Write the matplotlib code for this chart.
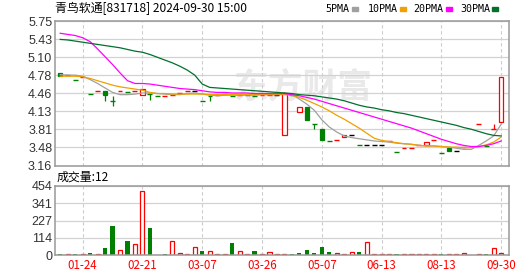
import numpy as np
import matplotlib
matplotlib.use('Agg')
import matplotlib.pyplot as plt
from matplotlib.patches import Rectangle

nan = np.nan

title = '青鸟软通[831718] 2024-09-30 15:00'
date_ticks = [3, 11, 19, 27, 35, 43, 51, 59]
date_labels = ['01-24', '02-21', '03-07', '03-26', '05-07', '06-13', '08-13', '09-30']
price_labels = ['3.16', '3.48', '3.81', '4.13', '4.46', '4.78', '5.10', '5.43', '5.75']
vol_labels = ['0', '114', '227', '341', '454']
ma_names = ['5PMA', '10PMA', '20PMA', '30PMA']

# daily candles (flat days have o == h == l == c)
opens = [4.81, 4.78, 4.70, 4.74, 4.45, 4.50, 4.50, 4.31, 4.49, 4.48,
         4.49, 4.42, 4.44, 4.40, 4.41, 4.43, 4.46, 4.49, 4.49, 4.31,
         4.41, 4.43, 4.45, 4.41, 4.42, 4.42, 4.41, 4.42, 4.43, 4.43,
         3.70, 4.42, 4.12, 4.21, 3.90, 3.81, 3.60, 3.61, 3.67, 3.71,
         3.52, 3.52, 3.52, 3.52, 3.60, 3.41, 3.47, 3.48, 3.53, 3.53,
         3.61, 3.39, 3.47, 3.42, 3.50, nan, 3.91, 3.51, 3.82, 3.94]
highs = [4.81, 4.78, 4.70, 4.74, 4.45, 4.50, 4.50, 4.40, 4.49, 4.48,
         4.49, 4.53, 4.44, 4.40, 4.41, 4.43, 4.46, 4.49, 4.49, 4.31,
         4.41, 4.43, 4.45, 4.41, 4.42, 4.42, 4.41, 4.42, 4.43, 4.43,
         4.47, 4.42, 4.21, 4.21, 3.90, 3.81, 3.60, 3.61, 3.71, 3.71,
         3.52, 3.52, 3.52, 3.52, 3.60, 3.41, 3.47, 3.48, 3.53, 3.58,
         3.61, 3.39, 3.47, 3.42, 3.50, nan, 3.91, 3.51, 3.90, 4.74]
lows = [4.77, 4.78, 4.70, 4.74, 4.45, 4.50, 4.31, 4.22, 4.49, 4.48,
        4.49, 4.42, 4.33, 4.40, 4.41, 4.43, 4.46, 4.49, 4.49, 4.31,
        4.31, 4.43, 4.45, 4.41, 4.42, 4.42, 4.41, 4.42, 4.43, 4.43,
        3.70, 4.42, 4.12, 3.97, 3.82, 3.62, 3.60, 3.61, 3.67, 3.71,
        3.52, 3.52, 3.52, 3.52, 3.60, 3.41, 3.47, 3.48, 3.53, 3.53,
        3.61, 3.39, 3.42, 3.42, 3.50, nan, 3.91, 3.51, 3.82, 3.94]
closes = [4.77, 4.78, 4.70, 4.74, 4.45, 4.50, 4.42, 4.31, 4.49, 4.48,
          4.49, 4.53, 4.44, 4.40, 4.41, 4.43, 4.46, 4.49, 4.49, 4.31,
          4.40, 4.43, 4.45, 4.41, 4.42, 4.42, 4.41, 4.42, 4.43, 4.43,
          4.46, 4.42, 4.21, 3.97, 3.90, 3.62, 3.60, 3.61, 3.71, 3.71,
          3.52, 3.52, 3.52, 3.52, 3.60, 3.41, 3.47, 3.48, 3.53, 3.58,
          3.61, 3.39, 3.42, 3.42, 3.50, nan, 3.91, 3.51, 3.82, 4.74]
volumes = [8, 8, 8, 8, 15, 8, 46, 190, 31, 92,
           70, 418, 177, 0, 8, 92, 13, 8, 50, 26,
           26, 8, 8, 81, 26, 8, 26, 8, 17, 8,
           8, 8, 13, 33, 13, 53, 20, 13, 8, 20,
           20, 85, 8, 8, 8, 8, 8, 8, 8, 8,
           8, 8, 8, 8, 13, 0, 8, 8, 44, 12]

# moving averages
ma5 = [4.79, 4.78, 4.78, 4.76, 4.70, 4.63, 4.55, 4.47, 4.43, 4.43,
       4.44, 4.46, 4.46, 4.45, 4.44, 4.43, 4.43, 4.45, 4.46, 4.44,
       4.42, 4.41, 4.42, 4.42, 4.42, 4.42, 4.42, 4.43, 4.43, 4.43,
       4.44, 4.43, 4.35, 4.26, 4.15, 3.98, 3.85, 3.76, 3.69, 3.66,
       3.64, 3.62, 3.60, 3.59, 3.58, 3.56, 3.55, 3.54, 3.52, 3.51,
       3.51, 3.50, 3.49, 3.47, 3.45, 3.45, 3.52, 3.60, 3.69, 3.90]
ma10 = [4.76, 4.76, 4.76, 4.75, 4.72, 4.68, 4.64, 4.60, 4.57, 4.55,
        4.53, 4.51, 4.47, 4.45, 4.45, 4.44, 4.44, 4.44, 4.44, 4.44,
        4.43, 4.43, 4.43, 4.43, 4.43, 4.43, 4.43, 4.43, 4.43, 4.43,
        4.43, 4.42, 4.38, 4.33, 4.27, 4.21, 4.14, 4.06, 3.99, 3.91,
        3.83, 3.74, 3.65, 3.61, 3.59, 3.57, 3.55, 3.54, 3.52, 3.51,
        3.51, 3.50, 3.49, 3.49, 3.48, 3.48, 3.50, 3.53, 3.58, 3.67]
ma20 = [5.53, 5.51, 5.49, 5.45, 5.38, 5.25, 5.11, 4.97, 4.82, 4.68,
        4.63, 4.63, 4.62, 4.60, 4.58, 4.56, 4.54, 4.53, 4.52, 4.50,
        4.48, 4.47, 4.47, 4.46, 4.46, 4.46, 4.45, 4.45, 4.45, 4.45,
        4.45, 4.43, 4.41, 4.38, 4.35, 4.31, 4.27, 4.23, 4.19, 4.15,
        4.11, 4.07, 4.03, 3.99, 3.95, 3.91, 3.87, 3.83, 3.78, 3.73,
        3.68, 3.63, 3.59, 3.55, 3.52, 3.50, 3.50, 3.52, 3.55, 3.60]
ma30 = [5.42, 5.41, 5.39, 5.37, 5.35, 5.33, 5.31, 5.29, 5.27, 5.24,
        5.21, 5.19, 5.15, 5.10, 5.05, 5.00, 4.94, 4.87, 4.78, 4.62,
        4.56, 4.55, 4.54, 4.53, 4.52, 4.51, 4.50, 4.49, 4.48, 4.47,
        4.46, 4.45, 4.43, 4.42, 4.41, 4.39, 4.37, 4.35, 4.32, 4.28,
        4.24, 4.21, 4.19, 4.16, 4.14, 4.11, 4.09, 4.06, 4.03, 4.00,
        3.97, 3.94, 3.91, 3.88, 3.84, 3.81, 3.77, 3.73, 3.70, 3.69]

UP = '#ff0000'
DOWN = '#008000'
FLAT = '#000000'
MA_COLORS = ['#a0a0a0', '#f0a000', '#ff00ff', '#00702c']
FRAME = '#999999'
W, H = 530, 276


def style_axes(ax):
    for sp in ax.spines.values():
        sp.set_color(FRAME)
        sp.set_linewidth(1.1)
    ax.set_axisbelow(True)
    ax.set_xlim(-0.7, 60.05)
    ax.set_xticks(date_ticks)
    ax.grid(axis='y', color='#d2d2d2', linewidth=0.9)
    ax.grid(axis='x', color='#cccccc', linewidth=0.8, linestyle=(0, (3, 2.4)))
    ax.tick_params(length=0, pad=2, labelsize=9, labelcolor='#333333')
    for lab in ax.get_yticklabels():
        lab.set_fontfamily(['Liberation Sans'])


def draw_candles(ax):
    prev = None
    for i in range(len(closes)):
        o, h, l, c = opens[i], highs[i], lows[i], closes[i]
        if np.isnan(c):
            continue
        if c > o:
            color = UP
        elif c < o:
            color = DOWN
        elif prev is None or c > prev:
            color = UP
        elif c < prev:
            color = DOWN
        else:
            color = FLAT
        if h > l:
            ax.vlines(i, l, h, color=color, linewidth=0.9, zorder=2)
        if c == o:
            ax.hlines(c, i - 0.33, i + 0.33, color=color, linewidth=1.0, zorder=2)
        else:
            face = 'white' if c > o else color
            ax.add_patch(Rectangle((i - 0.29, min(o, c)), 0.58, abs(c - o),
                                   facecolor=face, edgecolor=color,
                                   linewidth=0.9, zorder=2.5))
        prev = c


def draw_volume(ax):
    prev = None
    for i, v in enumerate(volumes):
        c = closes[i]
        if v == 0 or np.isnan(c):
            continue
        ref = opens[i] if prev is None else prev
        if c >= ref:
            ax.bar(i, v, width=0.55, facecolor='white', edgecolor=UP,
                   linewidth=0.9, zorder=2)
        else:
            ax.bar(i, v, width=0.55, color=DOWN, linewidth=0, zorder=2)
        prev = c


def main():
    plt.rcParams['font.family'] = ['Noto Sans CJK SC', 'DejaVu Sans']
    fig = plt.figure(figsize=(W / 100, H / 100), dpi=100)

    ax = fig.add_axes([55 / W, 1 - 165.5 / H, 454 / W, 144.5 / H])
    axv = fig.add_axes([55 / W, 1 - 255 / H, 454 / W, 69 / H])

    # price panel
    ax.set_ylim(3.16, 5.75)
    ax.set_yticks(np.linspace(3.16, 5.75, 9))
    ax.set_yticklabels(price_labels)
    style_axes(ax)
    ax.tick_params(labelbottom=False)
    ax.text(0.548, 0.545, '东方财富', transform=ax.transAxes, fontsize=25,
            fontweight='bold', color='#e9e9e9', ha='center', va='center', zorder=0.1)
    draw_candles(ax)
    x = np.arange(len(ma5))
    for vals, col in zip([ma5, ma10, ma20, ma30], MA_COLORS):
        ax.plot(x, vals, color=col, linewidth=0.9, zorder=3)

    # volume panel
    axv.set_ylim(0, 454)
    axv.set_yticks(np.linspace(0, 454, 5))
    axv.set_yticklabels(vol_labels)
    style_axes(axv)
    axv.set_xticklabels(date_labels)
    axv.tick_params(axis='x', labelcolor=UP, labelsize=8.3, pad=3)
    draw_volume(axv)

    # header texts
    fig.text(55 / W, 1 - 8.5 / H, title, fontsize=8.6, ha='left', va='center')
    fig.text(57 / W, 1 - 177 / H, f'成交量:{volumes[-1]}', fontsize=8.6,
             ha='left', va='center')
    sq_left = [351.7, 400, 445.7, 492.3]
    for name, col, sx in zip(ma_names, MA_COLORS, sq_left):
        fig.text((sx - 2.0) / W, 1 - 8.5 / H, name, fontsize=7.2,
                 family=['DejaVu Sans Mono'], ha='right', va='center')
        fig.add_artist(Rectangle((sx / W, (H - 10.5) / H), 6 / W, 4 / H,
                                 transform=fig.transFigure, color=col))

    fig.savefig('out.png', dpi=100)


if __name__ == '__main__':
    main()
